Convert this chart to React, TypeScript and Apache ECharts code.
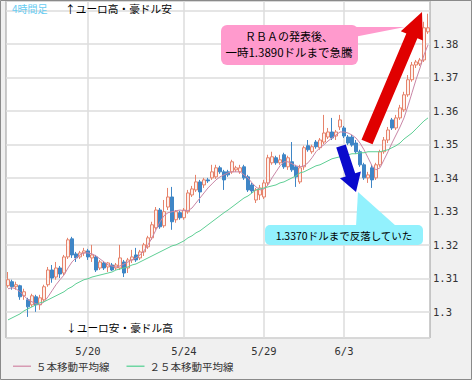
import React, { useEffect, useRef } from "react";
import * as echarts from "echarts";

// 4-hour candles (EUR/AUD)
const opens = [1.3078,1.3090,1.3075,1.3078,1.3048,1.3036,1.3021,1.3045,1.3021,1.3036,
1.3081,1.3125,1.3104,1.3131,1.3116,1.3164,1.3218,1.3173,1.3164,1.3176,
1.3182,1.3161,1.3164,1.3131,1.3146,1.3134,1.3140,1.3131,1.3131,1.3149,
1.3131,1.3155,1.3170,1.3161,1.3179,1.3194,1.3221,1.3251,1.3304,1.3257,
1.3313,1.3343,1.3275,1.3296,1.3281,1.3299,1.3349,1.3364,1.3388,1.3379,
1.3394,1.3400,1.3403,1.3430,1.3418,1.3418,1.3418,1.3424,1.3418,1.3433,
1.3403,1.3379,1.3334,1.3349,1.3343,1.3385,1.3445,1.3460,1.3445,1.3469,
1.3433,1.3448,1.3433,1.3388,1.3433,1.3496,1.3478,1.3507,1.3490,1.3507,
1.3522,1.3537,1.3525,1.3552,1.3549,1.3522,1.3522,1.3504,1.3478,1.3439,
1.3400,1.3430,1.3400,1.3439,1.3478,1.3513,1.3573,1.3549,1.3579,1.3603,
1.3648,1.3693,1.3737,1.3740,1.3752,1.3836];

const closes = [1.3096,1.3075,1.3081,1.3045,1.3060,1.3015,1.3048,1.3021,1.3042,1.3075,
1.3125,1.3101,1.3131,1.3113,1.3164,1.3215,1.3170,1.3161,1.3176,1.3182,
1.3164,1.3170,1.3125,1.3149,1.3131,1.3146,1.3125,1.3140,1.3161,1.3116,
1.3155,1.3164,1.3155,1.3179,1.3200,1.3221,1.3260,1.3304,1.3254,1.3299,
1.3343,1.3269,1.3299,1.3281,1.3304,1.3355,1.3367,1.3388,1.3358,1.3394,
1.3391,1.3418,1.3430,1.3418,1.3394,1.3409,1.3448,1.3430,1.3430,1.3400,
1.3364,1.3361,1.3364,1.3370,1.3385,1.3460,1.3463,1.3445,1.3454,1.3433,
1.3460,1.3424,1.3403,1.3430,1.3490,1.3484,1.3493,1.3493,1.3513,1.3534,
1.3537,1.3519,1.3537,1.3573,1.3525,1.3504,1.3498,1.3478,1.3439,1.3400,
1.3409,1.3394,1.3439,1.3478,1.3513,1.3543,1.3549,1.3579,1.3609,1.3648,
1.3693,1.3737,1.3746,1.3752,1.3848,1.3848];

const lows = [1.3072,1.3066,1.3066,1.3036,1.3036,1.2985,1.3015,1.3000,1.3006,1.3030,
1.3075,1.3087,1.3096,1.3101,1.3110,1.3158,1.3161,1.3149,1.3158,1.3167,
1.3155,1.3149,1.3119,1.3125,1.3125,1.3119,1.3122,1.3125,1.3125,1.3104,
1.3116,1.3146,1.3149,1.3155,1.3167,1.3188,1.3215,1.3245,1.3248,1.3251,
1.3304,1.3245,1.3266,1.3275,1.3275,1.3293,1.3343,1.3358,1.3325,1.3370,
1.3385,1.3394,1.3397,1.3412,1.3364,1.3403,1.3412,1.3418,1.3412,1.3394,
1.3358,1.3355,1.3325,1.3334,1.3337,1.3379,1.3439,1.3439,1.3439,1.3427,
1.3424,1.3418,1.3373,1.3382,1.3424,1.3478,1.3472,1.3487,1.3484,1.3501,
1.3516,1.3513,1.3513,1.3543,1.3519,1.3498,1.3493,1.3472,1.3433,1.3394,
1.3385,1.3370,1.3394,1.3433,1.3472,1.3504,1.3543,1.3543,1.3573,1.3597,
1.3642,1.3687,1.3728,1.3734,1.3746,1.3830];

const highs = [1.3119,1.3096,1.3090,1.3081,1.3069,1.3042,1.3054,1.3051,1.3051,1.3081,
1.3134,1.3140,1.3149,1.3137,1.3170,1.3221,1.3224,1.3179,1.3182,1.3191,
1.3188,1.3200,1.3170,1.3155,1.3152,1.3149,1.3146,1.3146,1.3200,1.3155,
1.3161,1.3185,1.3191,1.3185,1.3206,1.3227,1.3269,1.3313,1.3310,1.3334,
1.3370,1.3373,1.3304,1.3302,1.3310,1.3364,1.3376,1.3409,1.3394,1.3400,
1.3400,1.3439,1.3439,1.3436,1.3424,1.3424,1.3454,1.3436,1.3439,1.3439,
1.3409,1.3385,1.3370,1.3379,1.3394,1.3469,1.3478,1.3466,1.3469,1.3475,
1.3466,1.3507,1.3439,1.3439,1.3496,1.3513,1.3499,1.3513,1.3519,1.3588,
1.3549,1.3579,1.3543,1.3588,1.3555,1.3528,1.3528,1.3513,1.3484,1.3445,
1.3418,1.3439,1.3445,1.3484,1.3522,1.3552,1.3579,1.3588,1.3618,1.3657,
1.3707,1.3746,1.3752,1.3758,1.3866,1.3890];

const ma5 = [1.3069,1.3072,1.3069,1.3060,1.3048,1.3036,1.3030,1.3024,1.3021,1.3030,
1.3045,1.3063,1.3081,1.3096,1.3110,1.3131,1.3149,1.3161,1.3170,1.3176,
1.3176,1.3173,1.3167,1.3158,1.3149,1.3140,1.3137,1.3134,1.3137,1.3143,
1.3149,1.3155,1.3161,1.3170,1.3182,1.3200,1.3221,1.3245,1.3269,1.3287,
1.3296,1.3299,1.3302,1.3304,1.3302,1.3302,1.3310,1.3325,1.3340,1.3355,
1.3370,1.3382,1.3394,1.3403,1.3409,1.3415,1.3418,1.3418,1.3418,1.3409,
1.3400,1.3385,1.3373,1.3364,1.3367,1.3379,1.3400,1.3418,1.3436,1.3448,
1.3448,1.3442,1.3436,1.3433,1.3436,1.3445,1.3460,1.3478,1.3490,1.3499,
1.3510,1.3519,1.3528,1.3537,1.3537,1.3534,1.3528,1.3519,1.3504,1.3484,
1.3460,1.3436,1.3424,1.3430,1.3454,1.3478,1.3504,1.3528,1.3552,1.3579,
1.3615,1.3654,1.3693,1.3728,1.3767,1.3797];

const ma25 = [1.2976,1.2982,1.2988,1.2994,1.3003,1.3009,1.3015,1.3021,1.3027,1.3030,
1.3036,1.3042,1.3048,1.3054,1.3060,1.3069,1.3075,1.3084,1.3090,1.3096,
1.3099,1.3104,1.3107,1.3110,1.3113,1.3116,1.3119,1.3125,1.3128,1.3131,
1.3134,1.3140,1.3143,1.3149,1.3155,1.3161,1.3167,1.3173,1.3179,1.3185,
1.3191,1.3197,1.3200,1.3206,1.3212,1.3221,1.3227,1.3236,1.3242,1.3251,
1.3260,1.3269,1.3278,1.3287,1.3296,1.3304,1.3313,1.3322,1.3331,1.3340,
1.3346,1.3355,1.3364,1.3367,1.3370,1.3373,1.3376,1.3379,1.3385,1.3388,
1.3394,1.3400,1.3406,1.3415,1.3418,1.3424,1.3430,1.3436,1.3439,1.3445,
1.3451,1.3457,1.3460,1.3463,1.3466,1.3469,1.3472,1.3472,1.3475,1.3475,
1.3478,1.3478,1.3478,1.3478,1.3481,1.3484,1.3490,1.3496,1.3504,1.3516,
1.3525,1.3534,1.3546,1.3558,1.3570,1.3579];

// date tick labels and the bar index where each day starts
const tickLabels = ["5/20", "5/24", "5/29", "6/3"];
const tickIndex = [20, 44, 64, 84];

// price labels shown on the right axis
const yLabels = ["1.3", "1.31", "1.32", "1.33", "1.34", "1.35", "1.36", "1.37", "1.38"];

const seriesNames = ["５本移動平均線", "２５本移動平均線"];
const yMin = 1.2922;
const yMax = 1.3928;

const JP = '"Noto Sans CJK JP", sans-serif';

export default function App() {
  const ref = useRef<HTMLDivElement>(null);

  useEffect(() => {
    document.body.style.margin = "0";
    if (!ref.current) return;
    const chart = echarts.init(ref.current, null, { renderer: "svg" });

    const categories = opens.map((_, i) => String(i));
    const candleData = opens.map((o, i) => [o, closes[i], lows[i], highs[i]]);
    const isTick = (i: number) => tickIndex.indexOf(i) >= 0;

    const arrow = (b: number[], t: number[], hw: number, headLen: number, headHw: number) => {
      const dx = t[0] - b[0];
      const dy = t[1] - b[1];
      const L = Math.sqrt(dx * dx + dy * dy);
      const ux = dx / L, uy = dy / L;
      const nx = -uy, ny = ux;
      const hb = [b[0] + ux * (L - headLen), b[1] + uy * (L - headLen)];
      return [
        [b[0] + nx * hw, b[1] + ny * hw],
        [hb[0] + nx * hw, hb[1] + ny * hw],
        [hb[0] + nx * headHw, hb[1] + ny * headHw],
        [t[0], t[1]],
        [hb[0] - nx * headHw, hb[1] - ny * headHw],
        [hb[0] - nx * hw, hb[1] - ny * hw],
        [b[0] - nx * hw, b[1] - ny * hw],
      ];
    };

    chart.setOption({
      animation: false,
      backgroundColor: "#f0f0f0",
      grid: {
        left: 6,
        right: 42,
        top: 1,
        bottom: 42,
        show: true,
        backgroundColor: "#ffffff",
        borderColor: "#9a9a9a",
        borderWidth: 1,
      },
      legend: {
        data: seriesNames,
        left: 13,
        top: 361,
        padding: 0,
        icon: "rect",
        itemWidth: 18,
        itemHeight: 1.5,
        itemGap: 17,
        textStyle: { fontSize: 10.5, fontFamily: JP, color: "#333" },
      },
      xAxis: {
        type: "category",
        data: categories,
        boundaryGap: true,
        axisLine: { show: false },
        axisTick: { show: false, alignWithLabel: true, interval: (i: number) => isTick(i) },
        axisLabel: {
          interval: (i: number) => isTick(i),
          formatter: (_v: string, i: number) => {
            const k = tickIndex.indexOf(i);
            return k >= 0 ? tickLabels[k] : "";
          },
          margin: 7,
          fontSize: 10.5,
          fontFamily: '"DejaVu Sans Mono", monospace',
          color: "#333",
        },
        splitLine: {
          show: true,
          alignWithLabel: true,
          interval: (i: number) => isTick(i),
          lineStyle: { color: "#dcdcdc", width: 1.5 },
        },
      },
      yAxis: {
        type: "value",
        position: "right",
        min: yMin,
        max: yMax,
        splitNumber: 10,
        minInterval: 0.01,
        maxInterval: 0.01,
        axisLine: { show: false },
        axisTick: { show: false },
        axisLabel: {
          showMinLabel: false,
          showMaxLabel: false,
          margin: 3,
          fontSize: 10.5,
          fontFamily: '"DejaVu Sans Mono", monospace',
          color: "#333",
          formatter: (v: number) => {
            const s = String(parseFloat(v.toFixed(2)));
            return yLabels.indexOf(s) >= 0 ? s : "";
          },
        },
        splitLine: { show: true, lineStyle: { color: "#dcdcdc", width: 1.5 } },
      },
      series: [
        {
          type: "candlestick",
          data: candleData,
          barWidth: 3,
          itemStyle: {
            color: "#fdf0ec",
            borderColor: "#e6836b",
            color0: "#3f86c6",
            borderColor0: "#3f86c6",
            borderWidth: 1,
          },
        },
        {
          name: seriesNames[0],
          type: "line",
          data: ma5,
          symbol: "none",
          lineStyle: { color: "#c986a6", width: 1 },
          itemStyle: { color: "#d79bb3" },
        },
        {
          name: seriesNames[1],
          type: "line",
          data: ma25,
          symbol: "none",
          lineStyle: { color: "#5fcf95", width: 1 },
          itemStyle: { color: "#6fd6a3" },
        },
      ],
      graphic: [
        {
          type: "rect",
          z: 200,
          silent: true,
          shape: { x: 0.5, y: 0.5, width: 471, height: 379 },
          style: { fill: "none", stroke: "#8a8a8a", lineWidth: 1 },
        },
        {
          type: "text",
          z: 100,
          x: 12,
          y: 8,
          style: { text: "4時間足", fill: "#66ccf2", font: `10px ${JP}`, verticalAlign: "middle" },
        },
        {
          type: "text",
          z: 100,
          x: 65,
          y: 8,
          style: { text: "↑ユーロ高・豪ドル安", fill: "#000", font: `10.7px ${JP}`, verticalAlign: "middle" },
        },
        {
          type: "text",
          z: 100,
          x: 66,
          y: 327,
          style: { text: "↓ユーロ安・豪ドル高", fill: "#000", font: `10.7px ${JP}`, verticalAlign: "middle" },
        },
        {
          type: "polygon",
          z: 100,
          shape: { points: arrow([367, 142], [422, 12], 6, 26, 12) },
          style: { fill: "#e00000" },
        },
        {
          type: "polygon",
          z: 100,
          shape: { points: arrow([341, 146], [356, 192], 5, 18, 11) },
          style: { fill: "#0a0acc" },
        },
        {
          type: "polygon",
          z: 100,
          shape: { points: [[354, 27], [354, 37], [405, 27]] },
          style: { fill: "#ff9acd" },
        },
        {
          type: "rect",
          z: 100,
          shape: { x: 221, y: 25, width: 137, height: 40, r: 6 },
          style: { fill: "#ff9acd" },
        },
        {
          type: "text",
          z: 101,
          x: 289,
          y: 36,
          style: { text: "ＲＢＡの発表後、", fill: "#000", font: `11px ${JP}`, align: "center", verticalAlign: "middle" },
        },
        {
          type: "text",
          z: 101,
          x: 289,
          y: 52,
          style: { text: "一時1.3890ドルまで急騰", fill: "#000", font: `11.5px ${JP}`, align: "center", verticalAlign: "middle" },
        },
        {
          type: "polygon",
          z: 100,
          shape: { points: [[358, 192], [356, 226], [396, 226]] },
          style: { fill: "#92f1fd" },
        },
        {
          type: "rect",
          z: 100,
          shape: { x: 265, y: 225, width: 158, height: 20, r: 5 },
          style: { fill: "#92f1fd" },
        },
        {
          type: "text",
          z: 101,
          x: 344,
          y: 235,
          style: { text: "1.3370ドルまで反落していた", fill: "#000", font: `10.5px ${JP}`, align: "center", verticalAlign: "middle" },
        },
      ],
    });

    return () => chart.dispose();
  }, []);

  return <div ref={ref} style={{ width: 472, height: 380 }} />;
}
